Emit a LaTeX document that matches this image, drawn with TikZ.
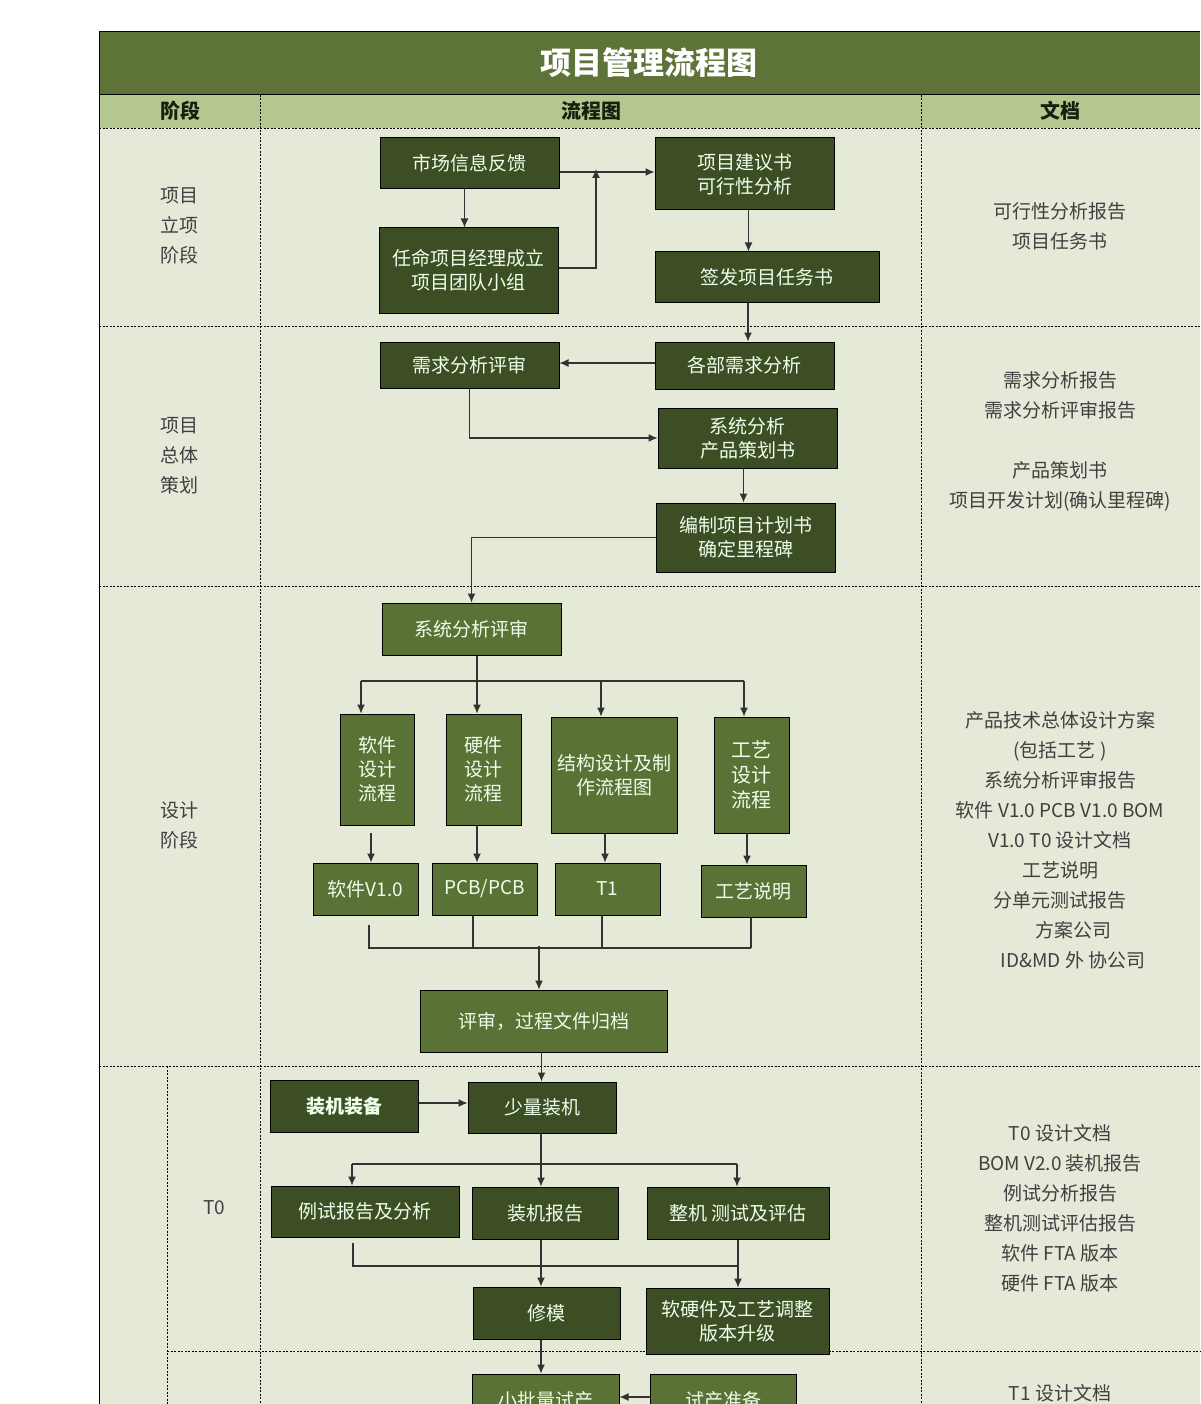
\documentclass[tikz,border=0pt]{standalone}
\usepackage{fontspec}
\setmainfont{Noto Sans CJK SC}
\usetikzlibrary{positioning}
\usetikzlibrary{arrows.meta}
\definecolor{titlegreen}{HTML}{5E7337}
\definecolor{headgreen}{HTML}{B3C78E}
\definecolor{bodygreen}{HTML}{E5E9D8}
\definecolor{darkbox}{HTML}{3D4E25}
\definecolor{midbox}{HTML}{5B7236}
\tikzset{>={Latex[length=9pt,width=8pt]}}
\tikzset{darkstep/.style={draw=black, line width=1pt, fill=darkbox, text=white!92!green, align=center, inner sep=0pt, font=\fontsize{19}{24}\selectfont}}
\tikzset{midstep/.style={darkstep, fill=midbox}}
\tikzset{link/.style={line width=1.1pt, draw=black!80}}
\tikzset{sep/.style={line width=0.9pt, dash pattern=on 2pt off 1.5pt}}
\tikzset{doc/.style={font=\fontsize{19}{30}\selectfont, text=black!75}}

\begin{document}
\begin{tikzpicture}[x=1pt, y=-1pt]
\useasboundingbox (0,0) rectangle (1200,1404);
\fill[white] (0,0) rectangle (1200,1404);

% table
\fill[bodygreen] (99,128) rectangle (1200,1404);
\fill[headgreen] (99,95) rectangle (1200,128);
\fill[titlegreen] (99,32) rectangle (1200,95);
\draw[line width=1pt] (1200,32) -- (99,32) -- (99,1404);
\draw[line width=1pt] (99,95) -- (1200,95);
\node (title) at (649,63) {\fontsize{31}{34}\selectfont\bfseries\color{white} 项目管理流程图};
\node[text=black!60!darkbox] (hstage) at (180,111) {\fontsize{20}{22}\selectfont\bfseries 阶段};
\node[text=black!60!darkbox] (hflow) at (591,111) {\fontsize{20}{22}\selectfont\bfseries 流程图};
\node[text=black!60!darkbox] (hdoc) at (1060,111) {\fontsize{20}{22}\selectfont\bfseries 文档};
\foreach \y in {128,326,586,1066}
  \draw[sep] (99,\y) -- (1200,\y);
\draw[sep] (167,1351) -- (1200,1351);
\draw[sep] (260,95) -- (260,1404);
\draw[sep] (921,95) -- (921,1404);
\draw[sep] (167,1066) -- (167,1404);

% stages
\node[doc, align=center] (s1) at (179,226) {项目\\立项\\阶段};
\node[doc, align=center] (s2) at (179,456) {项目\\总体\\策划};
\node[doc, align=center] (s3) at (179,825) {设计\\阶段};
\node[doc] (s4) at (214,1208) {T0};

% row 1
\node[darkstep, minimum width=179, minimum height=51] (mkt) at (469.5,163.5) {市场信息反馈};
\node[darkstep, minimum width=179, minimum height=72] (jys) at (744.5,174) {项目建议书\\可行性分析};
\node[darkstep, minimum width=179, minimum height=85] (rm) at (468.5,270.5) {任命项目经理成立\\项目团队小组};
\node[darkstep, minimum width=224, minimum height=51] (qf) at (767,277.5) {签发项目任务书};
\coordinate (up) at (596,172);
\draw[link, ->] ([xshift=-5]mkt.south) -- ([xshift=-5]mkt.south |- rm.north);
\draw[link, ->] (mkt.east |- up) -- (jys.west |- up);
\draw[link, ->] (rm.east |- 0,268) -| ([yshift=3]up);
\draw[link, ->] ([xshift=4]jys.south) -- ([xshift=4]jys.south |- qf.north);

% row 2
\node[darkstep, minimum width=179, minimum height=46] (xqps) at (469.5,365) {需求分析评审};
\node[darkstep, minimum width=179, minimum height=47] (gbxq) at (744.5,365.5) {各部需求分析};
\node[darkstep, minimum width=179, minimum height=60] (xtfx) at (747.5,438) {系统分析\\产品策划书};
\node[darkstep, minimum width=179, minimum height=69] (bzjh) at (745.5,537.5) {编制项目计划书\\确定里程碑};
\draw[link, ->] ([xshift=-19]qf.south) -- ([xshift=-19]qf.south |- gbxq.north);
\draw[link, ->] (gbxq.west |- 0,363) -- (xqps.east |- 0,363);
\draw[link, ->] (xqps.south) |- (xtfx.west);
\draw[link, ->] ([xshift=-4]xtfx.south) -- ([xshift=-4]xtfx.south |- bzjh.north);

% row 3
\node[midstep, minimum width=179, minimum height=52] (xtps) at (471.5,629) {系统分析评审};
\node[midstep, minimum width=74, minimum height=111] (rjlc) at (377,769.5) {软件\\设计\\流程};
\node[midstep, minimum width=75, minimum height=111] (yjlc) at (483.5,769.5) {硬件\\设计\\流程};
\node[midstep, minimum width=126, minimum height=116] (jglc) at (614,775) {结构设计及制\\作流程图};
\node[midstep, minimum width=75, minimum height=116, font=\fontsize{20}{25}\selectfont] (gylc) at (751.5,775) {工艺\\设计\\流程};
\node[midstep, minimum width=105, minimum height=52] (rjv) at (365.5,889) {软件V1.0};
\node[midstep, minimum width=105, minimum height=52] (pcb) at (484.5,889) {PCB/PCB};
\node[midstep, minimum width=105, minimum height=52] (tone) at (607.5,889) {T1};
\node[midstep, minimum width=105, minimum height=52] (gysm) at (753.5,891) {工艺说明};
\node[midstep, minimum width=247, minimum height=62] (pgdg) at (543.5,1021) {评审，过程文件归档};
\draw[link, ->] (bzjh.west) -| (xtps.north);
\coordinate (split) at (477,681);
\draw[link] (xtps.south -| split) -- (split);
\draw[link] (361,681) -- (744,681);
\foreach \x/\n in {361/rjlc, 477/yjlc, 601/jglc, 744/gylc}
  \draw[link, ->] (\x,681) -- (\x,0 |- \n.north);
\draw[link, ->] (371,833) -- (371,0 |- rjv.north);
\draw[link, ->] (477,0 |- yjlc.south) -- (477,0 |- pcb.north);
\draw[link, ->] (605,0 |- jglc.south) -- (605,0 |- tone.north);
\draw[link, ->] (747,0 |- gylc.south) -- (747,0 |- gysm.north);
\coordinate (merge) at (539,948);
\draw[link] (369,925) -- (369,948) -- (751,948);
\draw[link] (473,0 |- pcb.south) -- (473,948);
\draw[link] (602,0 |- tone.south) -- (602,948);
\draw[link] (751,0 |- gysm.south) -- (751,948);
\draw[link, ->] ([yshift=2]merge) -- (merge |- pgdg.north);

% T0
\node[darkstep, minimum width=148, minimum height=52, font=\fontsize{19}{24}\selectfont\bfseries] (zjzb) at (344,1106) {装机装备};
\node[darkstep, minimum width=148, minimum height=51] (slzj) at (542,1107.5) {少量装机};
\node[darkstep, minimum width=188, minimum height=51] (lsbg) at (365,1211.5) {例试报告及分析};
\node[darkstep, minimum width=146, minimum height=52] (zjbg) at (545,1213) {装机报告};
\node[darkstep, minimum width=182, minimum height=52] (zjcs) at (738,1213) {整机 测试及评估};
\node[darkstep, minimum width=147, minimum height=52] (xiumo) at (546.5,1313) {修模};
\node[darkstep, minimum width=183, minimum height=66] (rjgy) at (737.5,1321) {软硬件及工艺调整\\版本升级};
\node[midstep, minimum width=147, minimum height=52] (xpsc) at (545.5,1400) {小批量试产};
\node[midstep, minimum width=146, minimum height=52] (sczb) at (723,1400) {试产准备};
\draw[link, ->] ([xshift=-2]pgdg.south) -- ([xshift=-2]pgdg.south |- slzj.north);
\draw[link, ->] (zjzb.east |- 0,1103) -- (slzj.west |- 0,1103);
\draw[link] (541,0 |- slzj.south) -- (541,1164);
\draw[link] (352,1164) -- (737,1164);
\foreach \x/\n in {352/lsbg, 541/zjbg, 737/zjcs}
  \draw[link, ->] (\x,1164) -- (\x,0 |- \n.north);
\draw[link] (353,1243) -- (353,1266) -- (738,1266);
\draw[link, ->] (541,0 |- zjbg.south) -- (541,0 |- xiumo.north);
\draw[link, ->] (738,0 |- zjcs.south) -- (738,0 |- rjgy.north);
\draw[link, ->] (541,0 |- xiumo.south) -- (541,0 |- xpsc.north);
\draw[link, ->] (sczb.west |- 0,1397) -- (xpsc.east |- 0,1397);

% documents
\node[doc, align=center] (d1) at (1060,226) {可行性分析报告\\项目任务书};
\node[doc, align=center] (d2) at (1060,441) {需求分析报告\\需求分析评审报告\\[30pt]产品策划书\\项目开发计划(确认里程碑)};
\node[doc, align=center] (d3) at (1060,840) {产品技术总体设计方案\\(包括工艺 )\\系统分析评审报告\\软件 V1.0 PCB V1.0 BOM\\V1.0 T0 设计文档\\工艺说明\\分单元测试报告\\\hspace*{26pt}方案公司\\\hspace*{26pt}ID\&MD 外 协公司};
\node[doc, align=center] (d4) at (1060,1208) {T0 设计文档\\BOM V2.0 装机报告\\例试分析报告\\整机测试评估报告\\软件 FTA 版本\\硬件 FTA 版本};
\node[doc] (d5) at (1060,1393) {T1 设计文档};
\end{tikzpicture}
\end{document}
